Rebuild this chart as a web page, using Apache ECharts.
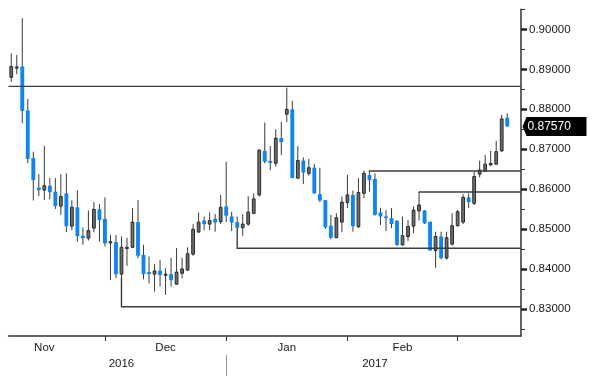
<!DOCTYPE html>
<html><head><meta charset="utf-8">
<script src="https://cdn.jsdelivr.net/npm/echarts@6/dist/echarts.min.js"></script>
<style>html,body{margin:0;padding:0;background:#fff}#c{width:600px;height:386px}</style>
</head><body><div id="c"></div>
<script>
const categories = [
'2016-11-08','2016-11-09','2016-11-10','2016-11-11','2016-11-14','2016-11-15','2016-11-16','2016-11-17','2016-11-18',
'2016-11-21','2016-11-22','2016-11-23','2016-11-24','2016-11-25','2016-11-28','2016-11-29','2016-11-30',
'2016-12-01','2016-12-02','2016-12-05','2016-12-06','2016-12-07','2016-12-08','2016-12-09','2016-12-12','2016-12-13',
'2016-12-14','2016-12-15','2016-12-16','2016-12-19','2016-12-20','2016-12-21','2016-12-22','2016-12-23','2016-12-26',
'2016-12-27','2016-12-28','2016-12-29','2016-12-30',
'2017-01-02','2017-01-03','2017-01-04','2017-01-05','2017-01-06','2017-01-09','2017-01-10','2017-01-11','2017-01-12',
'2017-01-13','2017-01-16','2017-01-17','2017-01-18','2017-01-19','2017-01-20','2017-01-23','2017-01-24','2017-01-25',
'2017-01-26','2017-01-27','2017-01-30','2017-01-31',
'2017-02-01','2017-02-02','2017-02-03','2017-02-06','2017-02-07','2017-02-08','2017-02-09','2017-02-10','2017-02-13',
'2017-02-14','2017-02-15','2017-02-16','2017-02-17','2017-02-20','2017-02-21','2017-02-22','2017-02-23','2017-02-24',
'2017-02-27','2017-02-28',
'2017-03-01','2017-03-02','2017-03-03','2017-03-06','2017-03-07','2017-03-08','2017-03-09','2017-03-10','2017-03-13',
'2017-03-14','2017-03-15','2017-03-16'
];
const opens = [
0.8880,0.8905,0.8907,0.8797,0.8678,0.8604,0.8598,0.8609,0.8594,0.8558,
0.8590,0.8508,0.8555,0.8484,0.8478,0.8503,0.8550,0.8526,0.8467,0.8468,
0.8388,0.8453,0.8455,0.8518,0.8436,0.8393,0.8388,0.8396,0.8386,0.8388,
0.8363,0.8390,0.8398,0.8438,0.8493,0.8522,0.8513,0.8526,0.8519,0.8557,
0.8532,0.8518,0.8504,0.8513,0.8540,0.8586,0.8696,0.8671,0.8665,0.8728,
0.8788,0.8800,0.8628,0.8672,0.8640,0.8654,0.8588,0.8573,0.8509,0.8479,
0.8518,0.8567,0.8586,0.8507,0.8590,0.8636,0.8626,0.8542,0.8532,0.8528,
0.8521,0.8461,0.8482,0.8508,0.8546,0.8547,0.8519,0.8447,0.8482,0.8428,
0.8463,0.8509,0.8518,0.8580,0.8565,0.8638,0.8646,0.8661,0.8663,0.8696,
0.8779
];
const closes = [
0.8907,0.8906,0.8796,0.8676,0.8623,0.8598,0.8609,0.8593,0.8558,0.8582,
0.8508,0.8555,0.8483,0.8478,0.8497,0.8550,0.8523,0.8465,0.8469,0.8388,
0.8455,0.8455,0.8518,0.8434,0.8388,0.8388,0.8396,0.8386,0.8388,0.8373,
0.8393,0.8401,0.8439,0.8500,0.8518,0.8513,0.8522,0.8517,0.8555,0.8534,
0.8517,0.8504,0.8513,0.8543,0.8576,0.8698,0.8669,0.8666,0.8728,0.8718,
0.8800,0.8628,0.8672,0.8642,0.8654,0.8590,0.8572,0.8505,0.8479,0.8529,
0.8568,0.8586,0.8508,0.8592,0.8640,0.8623,0.8536,0.8532,0.8528,0.8513,
0.8461,0.8484,0.8507,0.8548,0.8561,0.8515,0.8447,0.8482,0.8428,0.8479,
0.8509,0.8544,0.8580,0.8568,0.8632,0.8648,0.8663,0.8665,0.8694,0.8776,
0.8757
];
const lows = [
0.8869,0.8888,0.8765,0.8665,0.8572,0.8583,0.8573,0.8575,0.8551,0.8536,
0.8493,0.8498,0.8469,0.8461,0.8472,0.8493,0.8469,0.8457,0.8373,0.8378,
0.8378,0.8409,0.8453,0.8428,0.8375,0.8365,0.8344,0.8357,0.8336,0.8357,
0.8361,0.8378,0.8396,0.8434,0.8493,0.8498,0.8498,0.8494,0.8513,0.8518,
0.8496,0.8503,0.8484,0.8509,0.8538,0.8582,0.8665,0.8648,0.8657,0.8686,
0.8768,0.8628,0.8626,0.8613,0.8634,0.8588,0.8568,0.8501,0.8475,0.8478,
0.8493,0.8553,0.8494,0.8503,0.8578,0.8594,0.8534,0.8511,0.8496,0.8503,
0.8458,0.8459,0.8471,0.8490,0.8522,0.8513,0.8447,0.8404,0.8425,0.8425,
0.8459,0.8507,0.8513,0.8553,0.8561,0.8630,0.8643,0.8658,0.8661,0.8694,
0.8757
];
const highs = [
0.8940,0.8936,0.9028,0.8826,0.8694,0.8638,0.8709,0.8628,0.8628,0.8638,
0.8640,0.8573,0.8598,0.8505,0.8547,0.8568,0.8563,0.8580,0.8486,0.8486,
0.8482,0.8479,0.8553,0.8573,0.8461,0.8432,0.8413,0.8423,0.8403,0.8429,
0.8453,0.8429,0.8455,0.8513,0.8542,0.8532,0.8542,0.8538,0.8586,0.8669,
0.8544,0.8532,0.8538,0.8583,0.8590,0.8700,0.8767,0.8708,0.8750,0.8769,
0.8854,0.8821,0.8708,0.8680,0.8676,0.8663,0.8654,0.8573,0.8536,0.8540,
0.8582,0.8636,0.8597,0.8628,0.8647,0.8642,0.8640,0.8554,0.8548,0.8553,
0.8523,0.8532,0.8523,0.8557,0.8594,0.8548,0.8519,0.8494,0.8494,0.8494,
0.8540,0.8548,0.8588,0.8590,0.8644,0.8672,0.8686,0.8696,0.8721,0.8786,
0.8790
];
const yTicks = [0.83,0.84,0.85,0.86,0.87,0.88,0.89,0.90];
const yMinorTicks = [0.825,0.835,0.845,0.855,0.865,0.875,0.885,0.895,0.905];
const monthTickIdx = [17,39,61,81];
const monthLabels = {6:'Nov',28:'Dec',50:'Jan',71:'Feb'};
const yearLabels = {20:'2016',66:'2017'};
const yearSepIdx = [39];
const levelValues = [0.88575,0.83065,0.84525,0.86458,0.85933];
const levelAnchorIdx = [-1,20,41,65,74];
const lastPrice = 0.8757;

const candleData = opens.map((o,i)=>[i,o,closes[i],lows[i],highs[i]]);

function renderCandle(params, api){
  const i=api.value(0), o=api.value(1), c=api.value(2), l=api.value(3), h=api.value(4);
  const up = c>=o;
  const po=api.coord([i,o]), pc=api.coord([i,c]), pl=api.coord([i,l]), ph=api.coord([i,h]);
  const x=po[0];
  const band=api.size([1,0])[0];
  const w = up ? band*0.5 : band*0.7;
  const top=Math.min(po[1],pc[1]);
  const hgt=Math.max(Math.abs(po[1]-pc[1]),1.2);
  return {type:'group',children:[
    {type:'line',shape:{x1:x,y1:ph[1],x2:x,y2:pl[1]},style:{stroke:'#3a3a3a',lineWidth:1}},
    {type:'rect',shape:{x:x-w/2,y:top,width:w,height:hgt},
     style: up?{fill:'#6e6e6e',stroke:'#2a2a2a',lineWidth:1}:{fill:'#0a84ff',stroke:null}}
  ]};
}
function renderLevel(params, api){
  const k=params.dataIndex, lv=levelValues[k], a=levelAnchorIdx[k];
  const cs=params.coordSys, right=cs.x+cs.width;
  const yL=api.coord([0,lv])[1];
  let pts;
  if(a<0){ pts=[[cs.x,yL],[right,yL]]; }
  else {
    const ext = lv<lows[a]?lows[a]:highs[a];
    const p=api.coord([a,ext]);
    pts=[[p[0],p[1]],[p[0],yL],[right,yL]];
  }
  return {type:'polyline',shape:{points:pts},style:{stroke:'#3c3c3c',lineWidth:1.4,fill:null}};
}
function renderTag(params, api){
  const cs=params.coordSys;
  const y=api.coord([api.value(0),api.value(1)])[1];
  const x0=cs.x+cs.width+1.5;
  return {type:'group',children:[
    {type:'polygon',shape:{points:[[x0,y],[x0+4,y-9.5],[x0+64,y-9.5],[x0+64,y+9.5],[x0+4,y+9.5]]},style:{fill:'#000'}},
    {type:'text',style:{text:api.value(1).toFixed(5),x:x0+5,y:y,fill:'#fff',font:'12px "Liberation Sans"',align:'left',verticalAlign:'middle'}}
  ]};
}

const chart=echarts.init(document.getElementById('c'),null,{renderer:'canvas'});
chart.setOption({
  animation:false,
  backgroundColor:'#fff',
  grid:{left:8.5,right:79,top:9.33,bottom:50,containLabel:false},
  xAxis:[{
    type:'category',data:categories,boundaryGap:true,position:'bottom',
    axisLine:{show:true,lineStyle:{color:'#333',width:1.5}},
    axisTick:{show:true,alignWithLabel:true,interval:(i)=>monthTickIdx.includes(i),length:5,lineStyle:{color:'#333',width:1}},
    axisLabel:{show:true,interval:(i)=>monthLabels[i]!==undefined,formatter:(v,i)=>monthLabels[i]||'',margin:6,
      color:'#1a1a1a',fontSize:11.5,fontFamily:'Liberation Sans'},
    splitLine:{show:false}
  },{
    type:'category',data:categories,boundaryGap:true,position:'bottom',offset:19,
    axisLine:{show:false},
    axisTick:{show:true,alignWithLabel:true,interval:(i)=>yearSepIdx.includes(i),length:21,lineStyle:{color:'#999',width:1}},
    axisLabel:{show:true,interval:(i)=>yearLabels[i]!==undefined,formatter:(v,i)=>yearLabels[i]||'',margin:3,
      color:'#1a1a1a',fontSize:11.5,fontFamily:'Liberation Sans'},
    splitLine:{show:false}
  }],
  yAxis:[{
    type:'value',position:'right',min:0.82333,max:0.905,scale:true,
    axisLine:{show:true,lineStyle:{color:'#333',width:1.5}},
    axisTick:{show:true,customValues:yTicks,length:6,lineStyle:{color:'#222',width:2.5}},
    axisLabel:{show:true,customValues:yTicks,formatter:(v)=>v.toFixed(5),margin:8,color:'#1a1a1a',fontSize:11.5,fontFamily:'Liberation Sans'},
    splitLine:{show:false}
  },{
    type:'value',position:'right',min:0.82333,max:0.905,scale:true,
    axisLine:{show:false},
    axisTick:{show:true,customValues:yMinorTicks,length:4,lineStyle:{color:'#333',width:1}},
    axisLabel:{show:false},
    splitLine:{show:false}
  }],
  series:[
    {type:'custom',renderItem:renderCandle,data:candleData,encode:{x:0,y:[1,2,3,4]},z:2},
    {type:'custom',renderItem:renderLevel,data:levelValues.map((v,i)=>[Math.max(levelAnchorIdx[i],0),v]),encode:{x:0,y:1},z:3},
    {type:'custom',renderItem:renderTag,data:[[closes.length-1,lastPrice]],encode:{x:0,y:1},z:4,clip:false}
  ]
});
</script></body></html>
